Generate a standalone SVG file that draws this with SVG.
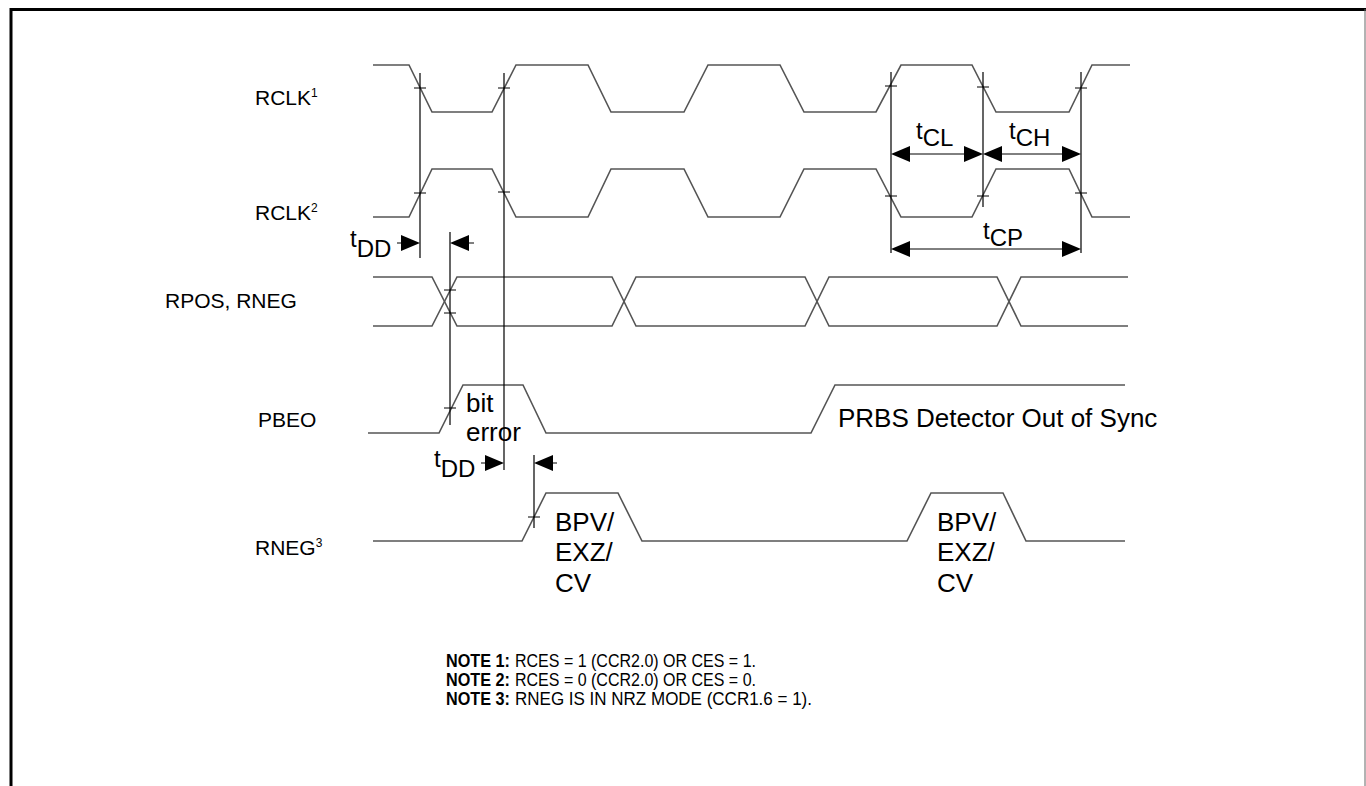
<svg xmlns="http://www.w3.org/2000/svg" width="1366" height="786" viewBox="0 0 1366 786">
<style>
.wave{fill:none;stroke:#555;stroke-width:1.6}
.vl{fill:none;stroke:#000;stroke-width:1.2}
.tk{fill:none;stroke:#000;stroke-width:1}
.ar{fill:#000;stroke:none}
.lbl{font-family:"Liberation Sans",Arial,sans-serif;font-size:21px;fill:#000}
.sup{font-size:12px}
.big{font-family:"Liberation Sans",Arial,sans-serif;font-size:26px;fill:#000}
.tm{font-family:"Liberation Sans",Arial,sans-serif;font-size:24px;fill:#000}
.note{font-family:"Liberation Sans",Arial,sans-serif;font-size:19px;fill:#000}
.b{font-weight:bold}
</style>
<rect width="1366" height="786" fill="#fff"/>
<path d="M11,786 V9.5 H1366" fill="none" stroke="#000" stroke-width="3"/>
<line x1="1365" y1="9" x2="1365" y2="786" stroke="#666" stroke-width="1"/>

<g id="RCLK1">
<text class="lbl" x="255" y="105">RCLK<tspan class="sup" dy="-8">1</tspan></text>
<path class="wave" d="M373,65 H409 L432,112 H492 L516,65 H588 L611,112 H684 L708,65 H780 L804,112 H876 L901,65 H972 L996,112 H1069 L1092,65 H1130"/>
</g>
<g id="RCLK2">
<text class="lbl" x="255" y="220">RCLK<tspan class="sup" dy="-8">2</tspan></text>
<path class="wave" d="M373,217 H409 L432,169 H492 L516,217 H588 L611,169 H684 L708,217 H780 L804,169 H876 L901,217 H972 L996,169 H1069 L1092,217 H1130"/>
</g>
<g id="RPOS_RNEG">
<text class="lbl" x="165" y="308">RPOS, RNEG</text>
<path class="wave" d="M373,277 H432 L457,326 H612 L636,277 H805 L829,326 H997 L1021,277 H1128"/>
<path class="wave" d="M373,326 H432 L457,277 H612 L636,326 H805 L829,277 H997 L1021,326 H1128"/>
</g>
<g id="PBEO">
<text class="lbl" x="258" y="427">PBEO</text>
<path class="wave" d="M368,433 H439 L463,385 H523 L546,433 H811 L835,385 H1125"/>
<text class="big" x="466" y="412">bit</text>
<text class="big" x="466" y="441">error</text>
<text class="big" x="838" y="427">PRBS Detector Out of Sync</text>
</g>
<g id="RNEG3">
<text class="lbl" x="255" y="555">RNEG<tspan class="sup" dy="-8">3</tspan></text>
<path class="wave" d="M373,541 H522 L546,493 H618 L642,541 H907 L931,493 H1003 L1026,541 H1125"/>
<text class="big" x="555" y="531">BPV/</text>
<text class="big" x="555" y="561">EXZ/</text>
<text class="big" x="555" y="592">CV</text>
<text class="big" x="937" y="531">BPV/</text>
<text class="big" x="937" y="561">EXZ/</text>
<text class="big" x="937" y="592">CV</text>
</g>

<g id="connectors">
<path class="vl" d="M420,73 V258 M504,73 V470 M450,232 V425 M534,455 V528 M891,72 V253 M983,72 V207 M1081,72 V253"/>
<path class="tk" d="M414,88 H426 M414,193 H426 M498,88 H510 M498,192 H510 M444,290 H456 M444,313 H456 M444,408 H456 M528,517 H540 M885,86 H897 M885,196 H897 M977,87 H989 M977,196 H989 M1075,88 H1087 M1075,193 H1087"/>
<path class="tk" d="M397,243 H402 M468,243 H474 M481,463 H486 M552,463 H557 M910,154 H964 M1002,154 H1062 M910,249 H1062"/>
<polygon class="ar" points="401,235 420,243 401,251"/>
<polygon class="ar" points="450,243 469,235 469,251"/>
<polygon class="ar" points="485,455 504,463 485,471"/>
<polygon class="ar" points="534,463 553,455 553,471"/>
<polygon class="ar" points="891,154 910,146 910,162"/>
<polygon class="ar" points="983,154 964,146 964,162"/>
<polygon class="ar" points="983,154 1002,146 1002,162"/>
<polygon class="ar" points="1081,154 1062,146 1062,162"/>
<polygon class="ar" points="891,249 910,241 910,257"/>
<polygon class="ar" points="1081,249 1062,241 1062,257"/>
</g>

<g id="timing-labels">
<text class="tm" x="350" y="247">t<tspan dy="10">DD</tspan></text>
<text class="tm" x="434" y="467">t<tspan dy="10">DD</tspan></text>
<text class="tm" x="916" y="139">t<tspan dy="7">CL</tspan></text>
<text class="tm" x="1009" y="139">t<tspan dy="7">CH</tspan></text>
<text class="tm" x="983" y="239">t<tspan dy="7">CP</tspan></text>
</g>

<g id="notes">
<text class="note b" x="446" y="667" textLength="64" lengthAdjust="spacingAndGlyphs">NOTE 1:</text>
<text class="note" x="515" y="667" textLength="241" lengthAdjust="spacingAndGlyphs">RCES = 1 (CCR2.0) OR CES = 1.</text>
<text class="note b" x="446" y="686" textLength="64" lengthAdjust="spacingAndGlyphs">NOTE 2:</text>
<text class="note" x="515" y="686" textLength="241" lengthAdjust="spacingAndGlyphs">RCES = 0 (CCR2.0) OR CES = 0.</text>
<text class="note b" x="446" y="705" textLength="64" lengthAdjust="spacingAndGlyphs">NOTE 3:</text>
<text class="note" x="515" y="705" textLength="297" lengthAdjust="spacingAndGlyphs">RNEG IS IN NRZ MODE (CCR1.6 = 1).</text>
</g>
</svg>
